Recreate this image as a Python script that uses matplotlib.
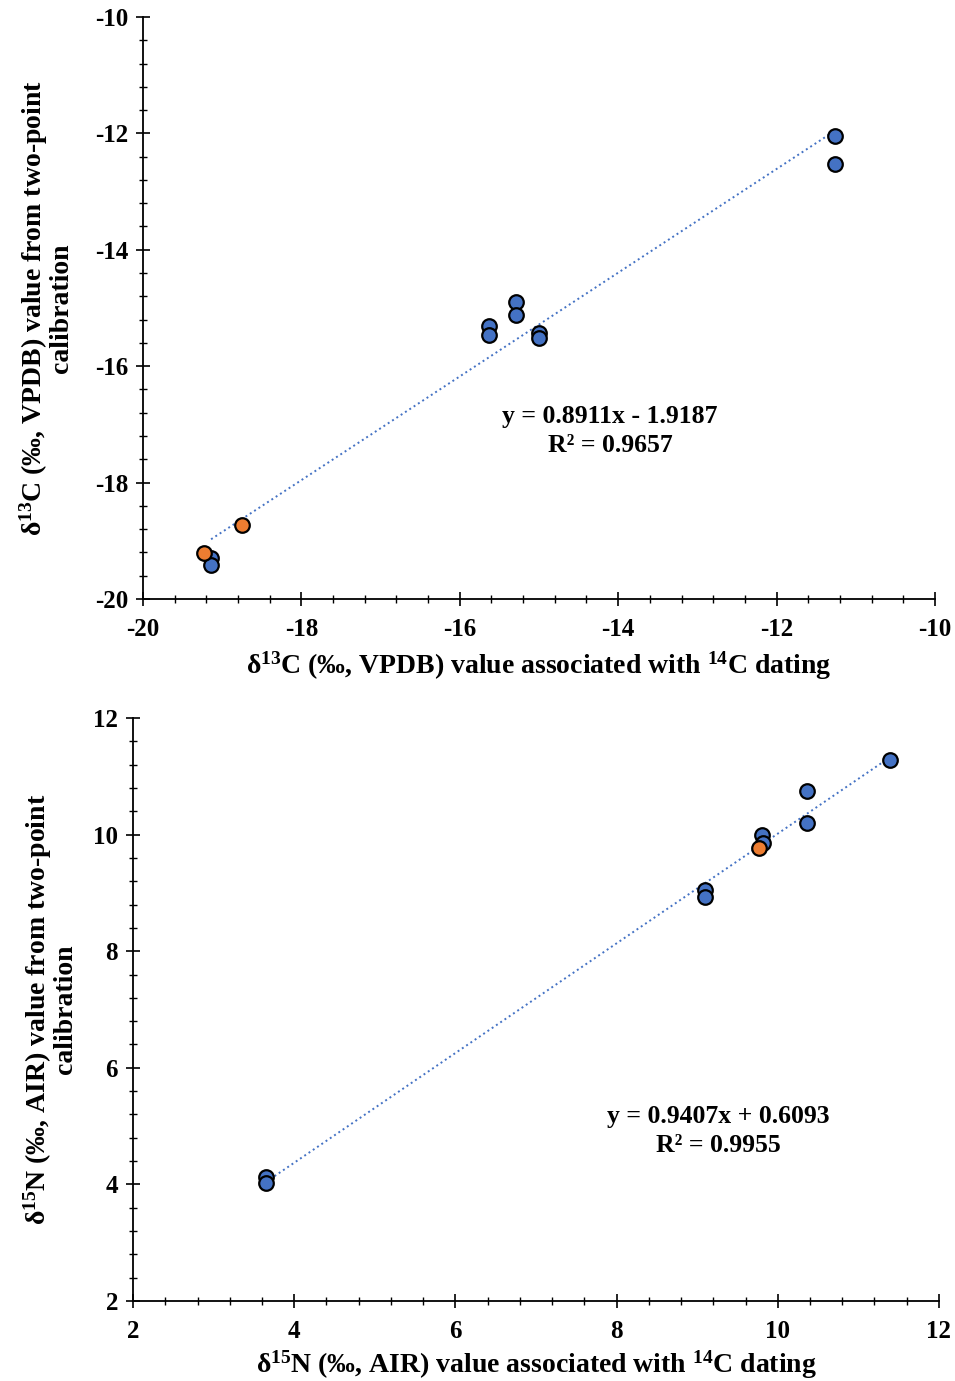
import matplotlib
matplotlib.use("Agg")
import matplotlib.pyplot as plt
import numpy as np
from matplotlib.ticker import MultipleLocator

plt.rcParams['font.family'] = ['Liberation Serif', 'DejaVu Serif']
plt.rcParams['font.weight'] = 'bold'
plt.rcParams['axes.unicode_minus'] = False
plt.rcParams['mathtext.fontset'] = 'custom'
plt.rcParams['mathtext.rm'] = 'Liberation Serif:bold'
plt.rcParams['mathtext.bf'] = 'Liberation Serif:bold'
plt.rcParams['mathtext.default'] = 'bf'

BLUE = '#4472C4'
ORANGE = '#ED7D31'

# ---- carbon data ----
c_x_blue = [-11.26, -11.26, -15.29, -15.29, -15.63, -15.63, -15.00, -15.00, -19.14, -19.14]
c_y_blue = [-12.04, -12.53, -14.90, -15.12, -15.31, -15.46, -15.43, -15.52, -19.30, -19.42]
c_x_orange = [-19.23, -18.75]
c_y_orange = [-19.21, -18.73]
c_slope, c_icpt = 0.8911, -1.9187
c_eq = ['y = 0.8911x - 1.9187', 'R² = 0.9657']

# ---- nitrogen data ----
n_x_blue = [11.39, 10.36, 10.36, 9.81, 9.82, 9.10, 9.10, 3.65, 3.65]
n_y_blue = [11.28, 10.75, 10.20, 9.99, 9.85, 9.05, 8.93, 4.13, 4.03]
n_x_orange = [9.77]
n_y_orange = [9.77]
n_slope, n_icpt = 0.9407, 0.6093
n_eq = ['y = 0.9407x + 0.6093', 'R² = 0.9955']

fig = plt.figure(figsize=(9.55, 13.81), dpi=100)
ax1 = fig.add_axes([0.1497, 0.5663, 0.8293, 0.4214])
ax2 = fig.add_axes([0.1393, 0.0579, 0.8439, 0.4222])


def style(ax, lo, hi):
    ax.set_xlim(lo, hi)
    ax.set_ylim(lo, hi)
    for s in ['top', 'right']:
        ax.spines[s].set_visible(False)
    for s in ['left', 'bottom']:
        ax.spines[s].set_linewidth(1.3)
    ax.xaxis.set_major_locator(MultipleLocator(2))
    ax.yaxis.set_major_locator(MultipleLocator(2))
    ax.xaxis.set_minor_locator(MultipleLocator(0.4))
    ax.yaxis.set_minor_locator(MultipleLocator(0.4))
    ax.tick_params(which='major', direction='inout', length=9.5, width=1.2, labelsize=18, pad=6)
    ax.tick_params(which='minor', direction='inout', length=6, width=1.0)
    ax.tick_params(axis='x', which='major', pad=9)
    for lab in ax.get_xticklabels() + ax.get_yticklabels():
        lab.set_fontweight('bold')


def draw(ax, xb, yb, xo, yo, slope, icpt):
    allx = np.array(xb + xo)
    xs = np.linspace(min(xb), allx.max(), 50)
    ax.plot(xs, slope * xs + icpt, linestyle=':', color=BLUE, linewidth=1.4, zorder=2)
    ax.scatter(xb, yb, s=110, c=BLUE, edgecolors='black', linewidths=1.6, zorder=3, clip_on=False)
    ax.scatter(xo, yo, s=110, c=ORANGE, edgecolors='black', linewidths=1.6, zorder=4, clip_on=False)


style(ax1, -20, -10)
draw(ax1, c_x_blue, c_y_blue, c_x_orange, c_y_orange, c_slope, c_icpt)
ax1.text(-14.1, -16.87, c_eq[0], ha='center', va='center', fontsize=18.5, fontweight='bold')
ax1.text(-14.1, -17.37, c_eq[1], ha='center', va='center', fontsize=18.5, fontweight='bold')
ax1.set_xlabel(r'δ$^{13}$C (‰, VPDB) value associated with $^{14}$C dating',
               fontsize=20, fontweight='bold', labelpad=6)
ax1.set_ylabel('δ$^{13}$C (‰, VPDB) value from two-point\ncalibration',
               fontsize=20, fontweight='bold', labelpad=15, linespacing=0.95)

style(ax2, 2, 12)
draw(ax2, n_x_blue, n_y_blue, n_x_orange, n_y_orange, n_slope, n_icpt)
ax2.text(9.26, 5.16, n_eq[0], ha='center', va='center', fontsize=18.5, fontweight='bold')
ax2.text(9.26, 4.66, n_eq[1], ha='center', va='center', fontsize=18.5, fontweight='bold')
ax2.set_xlabel(r'δ$^{15}$N (‰, AIR) value associated with $^{14}$C dating',
               fontsize=20, fontweight='bold', labelpad=4)
ax2.set_ylabel('δ$^{15}$N (‰, AIR) value from two-point\ncalibration',
               fontsize=20, fontweight='bold', labelpad=11, linespacing=0.95)

fig.savefig('out.png', dpi=100)
